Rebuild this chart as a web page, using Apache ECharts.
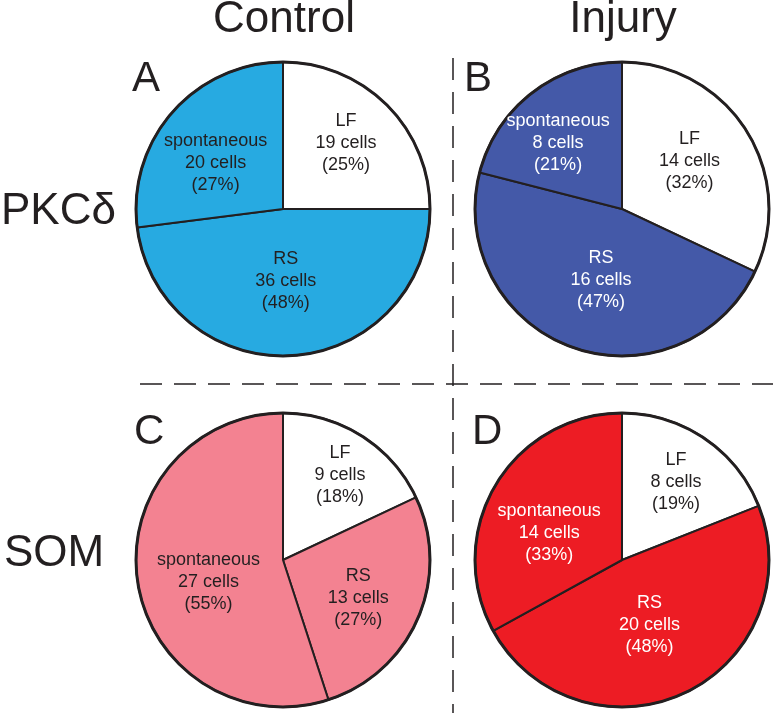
<!DOCTYPE html>
<html>
<head>
<meta charset="utf-8">
<title>PKCδ / SOM firing types</title>
<script src="https://cdn.jsdelivr.net/npm/echarts@6/dist/echarts.min.js"></script>
<style>
  html, body { margin: 0; padding: 0; background: #fff; }
  #chart { width: 773px; height: 713px; }
</style>
</head>
<body>
<div id="chart"></div>
<script>
// --- data ---
const categories = ['LF', 'RS', 'spontaneous'];

const cellsA = [19, 36, 20];   // PKCδ control
const cellsB = [14, 16, 8];    // PKCδ injury
const cellsC = [9, 13, 27];    // SOM control
const cellsD = [8, 20, 14];    // SOM injury

const pctA = [25, 48, 27];
const pctB = [32, 47, 21];
const pctC = [18, 27, 55];
const pctD = [19, 48, 33];

const columnTitles = ['Control', 'Injury'];
const rowTitles = ['PKCδ', 'SOM'];
const panelLetters = ['A', 'B', 'C', 'D'];

// --- look ---
const ink = '#231f20';
const fontFamily = 'Liberation Sans, Arial, Helvetica, sans-serif';

const panels = [
    { cells: cellsA, pct: pctA, center: [283, 209], fill: '#27aae1', text: [ink, ink, ink],
      shift: [[9, -12], [-2, -4], [-10, 5]] },
    { cells: cellsB, pct: pctB, center: [622, 209], fill: '#4459a8', text: [ink, '#fff', '#fff'],
      shift: [[3, -7], [5, -1], [-17, -6]] },
    { cells: cellsC, pct: pctC, center: [283, 560], fill: '#f38291', text: [ink, ink, ink],
      shift: [[16, -20], [5, 8], [1, 10]] },
    { cells: cellsD, pct: pctD, center: [622, 560], fill: '#ed1c24', text: [ink, '#fff', '#fff'],
      shift: [[11, -15], [-5, -4], [-7, 12]] }
];

const radius = 147;

const series = [];
panels.forEach(p => {
    series.push({
        type: 'pie',
        center: p.center,
        radius: [0, radius],
        startAngle: 90,
        clockwise: true,
        silent: true,
        avoidLabelOverlap: false,
        animation: false,
        itemStyle: { borderColor: ink, borderWidth: 2 },
        label: {
            show: true,
            position: 'inside',
            fontFamily: fontFamily,
            fontSize: 18,
            lineHeight: 22,
            align: 'center',
            verticalAlign: 'middle',
            formatter: params => {
                const i = params.dataIndex;
                return categories[i] + '\n' + p.cells[i] + ' cells\n(' + p.pct[i] + '%)';
            }
        },
        labelLine: { show: false },
        labelLayout: params => ({ dx: p.shift[params.dataIndex][0], dy: p.shift[params.dataIndex][1] }),
        emphasis: { disabled: true },
        data: categories.map((name, i) => ({
            name: name,
            value: p.pct[i],
            itemStyle: { color: i === 0 ? '#ffffff' : p.fill },
            label: { color: p.text[i] }
        }))
    });
    // heavier outer rim
    series.push({
        type: 'pie',
        center: p.center,
        radius: [0, radius],
        silent: true,
        animation: false,
        label: { show: false },
        labelLine: { show: false },
        emphasis: { disabled: true },
        itemStyle: { color: 'rgba(0,0,0,0)', borderColor: ink, borderWidth: 3 },
        data: [{ name: 'rim', value: 1 }]
    });
});

// --- titles, letters and dashed dividers ---
function textEl(str, x, y, size, align) {
    return {
        type: 'text',
        x: x,
        y: y,
        silent: true,
        style: {
            text: str,
            fill: ink,
            font: size + 'px ' + fontFamily,
            align: align || 'center',
            verticalAlign: 'middle'
        }
    };
}

const graphics = [
    textEl(columnTitles[0], 284, 20, 44),
    textEl(columnTitles[1], 623, 20, 44),
    textEl(rowTitles[0], 1, 212, 44, 'left'),
    textEl(rowTitles[1], 4, 554, 44, 'left'),
    textEl(panelLetters[0], 132, 79, 42, 'left'),
    textEl(panelLetters[1], 464, 79, 42, 'left'),
    textEl(panelLetters[2], 134, 432, 42, 'left'),
    textEl(panelLetters[3], 472, 432, 42, 'left'),
    {
        type: 'line', silent: true,
        shape: { x1: 140, y1: 384, x2: 773, y2: 384 },
        style: { stroke: ink, lineWidth: 1.5, lineDash: [22, 12] }
    },
    {
        type: 'line', silent: true,
        shape: { x1: 453, y1: 58, x2: 453, y2: 713 },
        style: { stroke: ink, lineWidth: 1.5, lineDash: [22, 12] }
    }
];

const chart = echarts.init(document.getElementById('chart'), null, { renderer: 'canvas' });
chart.setOption({
    backgroundColor: '#ffffff',
    animation: false,
    series: series,
    graphic: graphics
});
</script>
</body>
</html>
